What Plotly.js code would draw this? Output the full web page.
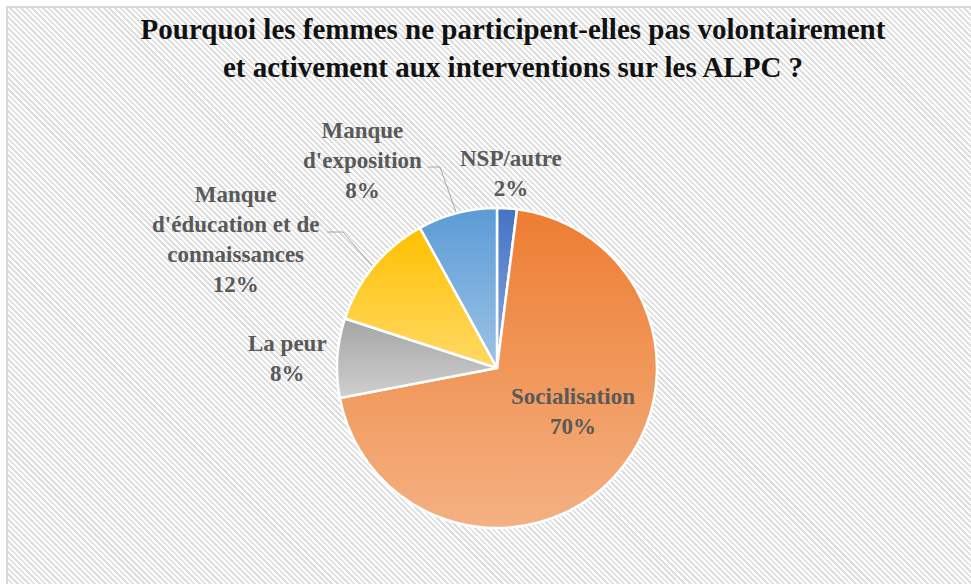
<!DOCTYPE html>
<html>
<head>
<meta charset="utf-8">
<script src="https://cdn.plot.ly/plotly-3.0.1.min.js"></script>
<style>
  html, body { margin: 0; padding: 0; background: #ffffff; overflow: hidden; }
  #frame {
    position: absolute; left: 6px; top: 6px; width: 990px; height: 610px;
    border: 2px solid #d9d9d9; box-sizing: border-box;
    background: repeating-linear-gradient(45deg, #dedede 0px, #dedede 1.8px, #ffffff 1.8px, #ffffff 3.9px);
  }
  #chart { position: absolute; left: 0; top: 0; width: 971px; height: 584px; }
</style>
</head>
<body>
<div id="frame"></div>
<div id="chart"></div>
<script>
// ---- data ----
const categories = ["NSP/autre", "Socialisation", "La peur", "Manque d'éducation et de connaissances", "Manque d'exposition"];
const values = [2, 70, 8, 12, 8];
const labelLines = ["NSP/autre", "Socialisation", "La peur", "Manque<br>d'éducation et de<br>connaissances", "Manque<br>d'exposition"];
const topColors = ["#4472C4", "#ED7D31", "#A5A5A5", "#FFC000", "#5B9BD5"];
const bottomColors = ["#8FAADC", "#F4B183", "#CFCFCF", "#FFD966", "#9DC3E6"];
const titleText = "Pourquoi les femmes ne participent-elles pas volontairement<br>et activement aux interventions sur les ALPC ?";

// ---- layout helpers (pixel -> paper) ----
const W = 971, H = 584;
const px = x => x / W;
const py = y => 1 - y / H;

const cx = 497, cy = 368, r = 160;
const FONT = 'Liberation Serif';

const labelPos = [
  [511, 174], [573, 411], [287, 358], [235, 239], [362, 160]
];

const total = values.reduce((a, b) => a + b, 0);
const annotations = categories.map((c, i) => ({
  xref: 'paper', yref: 'paper',
  x: px(labelPos[i][0]), y: py(labelPos[i][1]),
  xanchor: 'center', yanchor: 'middle',
  text: labelLines[i] + '<br>' + Math.round(values[i] / total * 100) + '%',
  showarrow: false,
  font: { family: FONT, size: 23, color: '#595959', weight: 'bold' },
  align: 'center'
}));

function pathPx(points) {
  return points.map((p, k) => (k ? 'L' : 'M') + px(p[0]) + ',' + py(p[1])).join(' ');
}
const shapes = [
  { type: 'path', xref: 'paper', yref: 'paper', path: pathPx([[428, 167], [440, 167], [456, 212]]),
    line: { color: '#a6a6a6', width: 1 } },
  { type: 'path', xref: 'paper', yref: 'paper', path: pathPx([[327, 232], [343, 232], [372, 266]]),
    line: { color: '#a6a6a6', width: 1 } }
];

const trace = {
  type: 'pie',
  labels: categories,
  values: values,
  sort: false,
  direction: 'clockwise',
  rotation: 0,
  textinfo: 'none',
  hoverinfo: 'label+percent',
  marker: { colors: topColors, line: { color: '#ffffff', width: 2.5 } },
  domain: { x: [px(cx - r), px(cx + r)], y: [py(cy + r), py(cy - r)] },
  showlegend: false
};

const layout = {
  width: W, height: H,
  margin: { l: 0, r: 0, t: 0, b: 0 },
  paper_bgcolor: 'rgba(0,0,0,0)',
  plot_bgcolor: 'rgba(0,0,0,0)',
  font: { family: FONT },
  title: {
    text: titleText,
    x: px(513), xref: 'container', xanchor: 'center',
    y: 1 - 39 / H, yref: 'container', yanchor: 'middle',
    font: { family: FONT, size: 29, color: '#111111', weight: 'bold' }
  },
  annotations: annotations,
  shapes: shapes,
  showlegend: false
};

Plotly.newPlot('chart', [trace], layout, { displayModeBar: false, staticPlot: true }).then(gd => {
  const svg = gd.querySelector('svg.main-svg');
  const ns = 'http://www.w3.org/2000/svg';
  let defs = svg.querySelector('defs');
  if (!defs) { defs = document.createElementNS(ns, 'defs'); svg.insertBefore(defs, svg.firstChild); }
  topColors.forEach((c, i) => {
    const g = document.createElementNS(ns, 'linearGradient');
    g.setAttribute('id', 'sliceGrad' + i);
    g.setAttribute('x1', '0'); g.setAttribute('y1', '0');
    g.setAttribute('x2', '0'); g.setAttribute('y2', '1');
    const s1 = document.createElementNS(ns, 'stop');
    s1.setAttribute('offset', '0'); s1.setAttribute('stop-color', c);
    const s2 = document.createElementNS(ns, 'stop');
    s2.setAttribute('offset', '1'); s2.setAttribute('stop-color', bottomColors[i]);
    g.appendChild(s1); g.appendChild(s2);
    defs.appendChild(g);
  });
  const paths = gd.querySelectorAll('g.slice path.surface');
  paths.forEach((p, i) => { p.style.fill = 'url(#sliceGrad' + i + ')'; });
});
</script>
</body>
</html>
